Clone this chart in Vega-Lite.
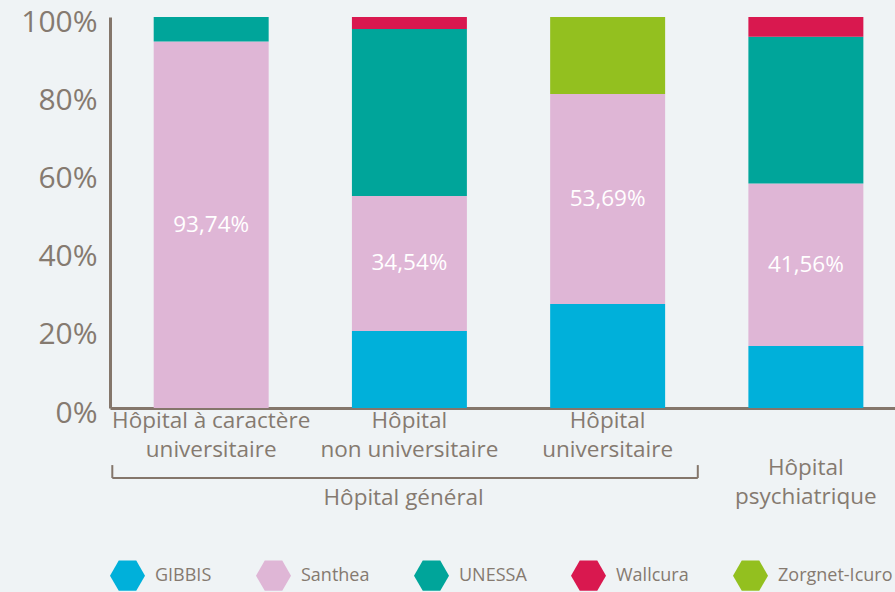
{
  "$schema": "https://vega.github.io/schema/vega-lite/v6.json",
  "width": 785,
  "height": 391,
  "autosize": "none",
  "padding": {"left": 110, "top": 17, "right": 0, "bottom": 184},
  "background": "#eff3f5",
  "config": {
    "view": {"stroke": null},
    "font": "Open Sans",
    "axis": {"labelColor": "#857a70", "domainColor": "#84766b", "domainWidth": 3, "ticks": false, "tickSize": 0, "grid": false, "title": null}
  },
  "datasets": {
    "bars": [
      {"cat": "Hôpital à caractère|universitaire", "series": "Santhea", "value": 93.74, "o": 2, "lbl": "93,74%"},
      {"cat": "Hôpital à caractère|universitaire", "series": "UNESSA", "value": 6.26, "o": 3, "lbl": ""},
      {"cat": "Hôpital|non universitaire", "series": "GIBBIS", "value": 19.7, "o": 1, "lbl": ""},
      {"cat": "Hôpital|non universitaire", "series": "Santhea", "value": 34.54, "o": 2, "lbl": "34,54%"},
      {"cat": "Hôpital|non universitaire", "series": "UNESSA", "value": 42.7, "o": 3, "lbl": ""},
      {"cat": "Hôpital|non universitaire", "series": "Wallcura", "value": 3.06, "o": 4, "lbl": ""},
      {"cat": "Hôpital|universitaire", "series": "GIBBIS", "value": 26.6, "o": 1, "lbl": ""},
      {"cat": "Hôpital|universitaire", "series": "Santhea", "value": 53.69, "o": 2, "lbl": "53,69%"},
      {"cat": "Hôpital|universitaire", "series": "Zorgnet-Icuro", "value": 19.71, "o": 5, "lbl": ""},
      {"cat": "Hôpital|psychiatrique", "series": "GIBBIS", "value": 15.86, "o": 1, "lbl": ""},
      {"cat": "Hôpital|psychiatrique", "series": "Santhea", "value": 41.56, "o": 2, "lbl": "41,56%"},
      {"cat": "Hôpital|psychiatrique", "series": "UNESSA", "value": 37.5, "o": 3, "lbl": ""},
      {"cat": "Hôpital|psychiatrique", "series": "Wallcura", "value": 5.08, "o": 4, "lbl": ""}
    ],
    "leftEnd": [
      {"cat": "Hôpital à caractère|universitaire", "ya": -14.6, "yb": -17.9}
    ],
    "rightEnd": [
      {"cat": "Hôpital|psychiatrique", "ya": -14.6, "yb": -17.9}
    ],
    "span": [
      {"cat": "Hôpital à caractère|universitaire", "cat2": "Hôpital|psychiatrique", "yh": -17.9}
    ],
    "group": [
      {"cat": "Hôpital|non universitaire", "yt": -23.0, "txt": "Hôpital général"}
    ]
  },
  "layer": [
    {
      "data": {"name": "bars"},
      "mark": {"type": "bar"},
      "encoding": {
        "x": {
          "field": "cat", "type": "nominal", "sort": null,
          "scale": {"domain": ["Hôpital à caractère|universitaire", "Hôpital|non universitaire", "Hôpital|universitaire", "Hôpital|psychiatrique"], "paddingInner": 0.42, "paddingOuter": 0.19, "align": 0.58},
          "axis": {
            "labelExpr": "split(datum.label, '|')",
            "labelAngle": 0,
            "labelFontSize": 22.5,
            "labelLineHeight": 29,
            "labelBaseline": "top",
            "labelPadding": {"condition": {"test": "indexof(datum.label, 'psychiatrique') >= 0", "value": 48}, "value": 1},
            "labelLimit": 300
          }
        },
        "y": {
          "field": "value", "type": "quantitative", "stack": "zero",
          "scale": {"domain": [0, 100], "nice": false},
          "axis": {"values": [0, 20, 40, 60, 80, 100], "labelExpr": "datum.value + '%'", "labelFontSize": 30, "labelPadding": 13, "labelOffset": 5}
        },
        "color": {
          "field": "series", "type": "nominal",
          "scale": {"domain": ["GIBBIS", "Santhea", "UNESSA", "Wallcura", "Zorgnet-Icuro"], "range": ["#00b0da", "#dfb6d6", "#00a59a", "#d9184f", "#93c01f"]},
          "legend": {
            "orient": "none", "direction": "horizontal", "legendX": 0, "legendY": 541,
            "title": null,
            "symbolType": "M-1,0L-0.5,-0.866L0.5,-0.866L1,0L0.5,0.866L-0.5,0.866Z",
            "symbolSize": 1225, "symbolStrokeWidth": 0, "symbolOpacity": 1,
            "labelFontSize": 18, "labelColor": "#857a70", "labelOffset": 10,
            "columnPadding": 44
          }
        },
        "order": {"field": "o", "type": "quantitative"}
      }
    },
    {
      "data": {"name": "bars"},
      "mark": {"type": "text", "color": "white", "fontSize": 22.5, "baseline": "middle"},
      "encoding": {
        "x": {"field": "cat", "type": "nominal", "sort": null},
        "y": {"field": "value", "type": "quantitative", "stack": "zero", "bandPosition": 0.5},
        "detail": {"field": "series"},
        "order": {"field": "o", "type": "quantitative"},
        "text": {"field": "lbl"}
      }
    },
    {
      "data": {"name": "leftEnd"},
      "mark": {"type": "rule", "color": "#84766b", "strokeWidth": 2},
      "encoding": {
        "x": {"field": "cat", "type": "nominal", "bandPosition": -0.36},
        "y": {"field": "ya", "type": "quantitative"},
        "y2": {"field": "yb"}
      }
    },
    {
      "data": {"name": "rightEnd"},
      "mark": {"type": "rule", "color": "#84766b", "strokeWidth": 2},
      "encoding": {
        "x": {"field": "cat", "type": "nominal", "bandPosition": -0.44},
        "y": {"field": "ya", "type": "quantitative"},
        "y2": {"field": "yb"}
      }
    },
    {
      "data": {"name": "span"},
      "mark": {"type": "rule", "color": "#84766b", "strokeWidth": 2},
      "encoding": {
        "x": {"field": "cat", "type": "nominal", "bandPosition": -0.36},
        "x2": {"field": "cat2", "bandPosition": -0.44},
        "y": {"field": "yh", "type": "quantitative"}
      }
    },
    {
      "data": {"name": "group"},
      "mark": {"type": "text", "color": "#857a70", "fontSize": 22.5, "baseline": "middle", "align": "center"},
      "encoding": {
        "x": {"field": "cat", "type": "nominal", "bandPosition": 0.45},
        "y": {"field": "yt", "type": "quantitative"},
        "text": {"field": "txt"}
      }
    }
  ]
}
